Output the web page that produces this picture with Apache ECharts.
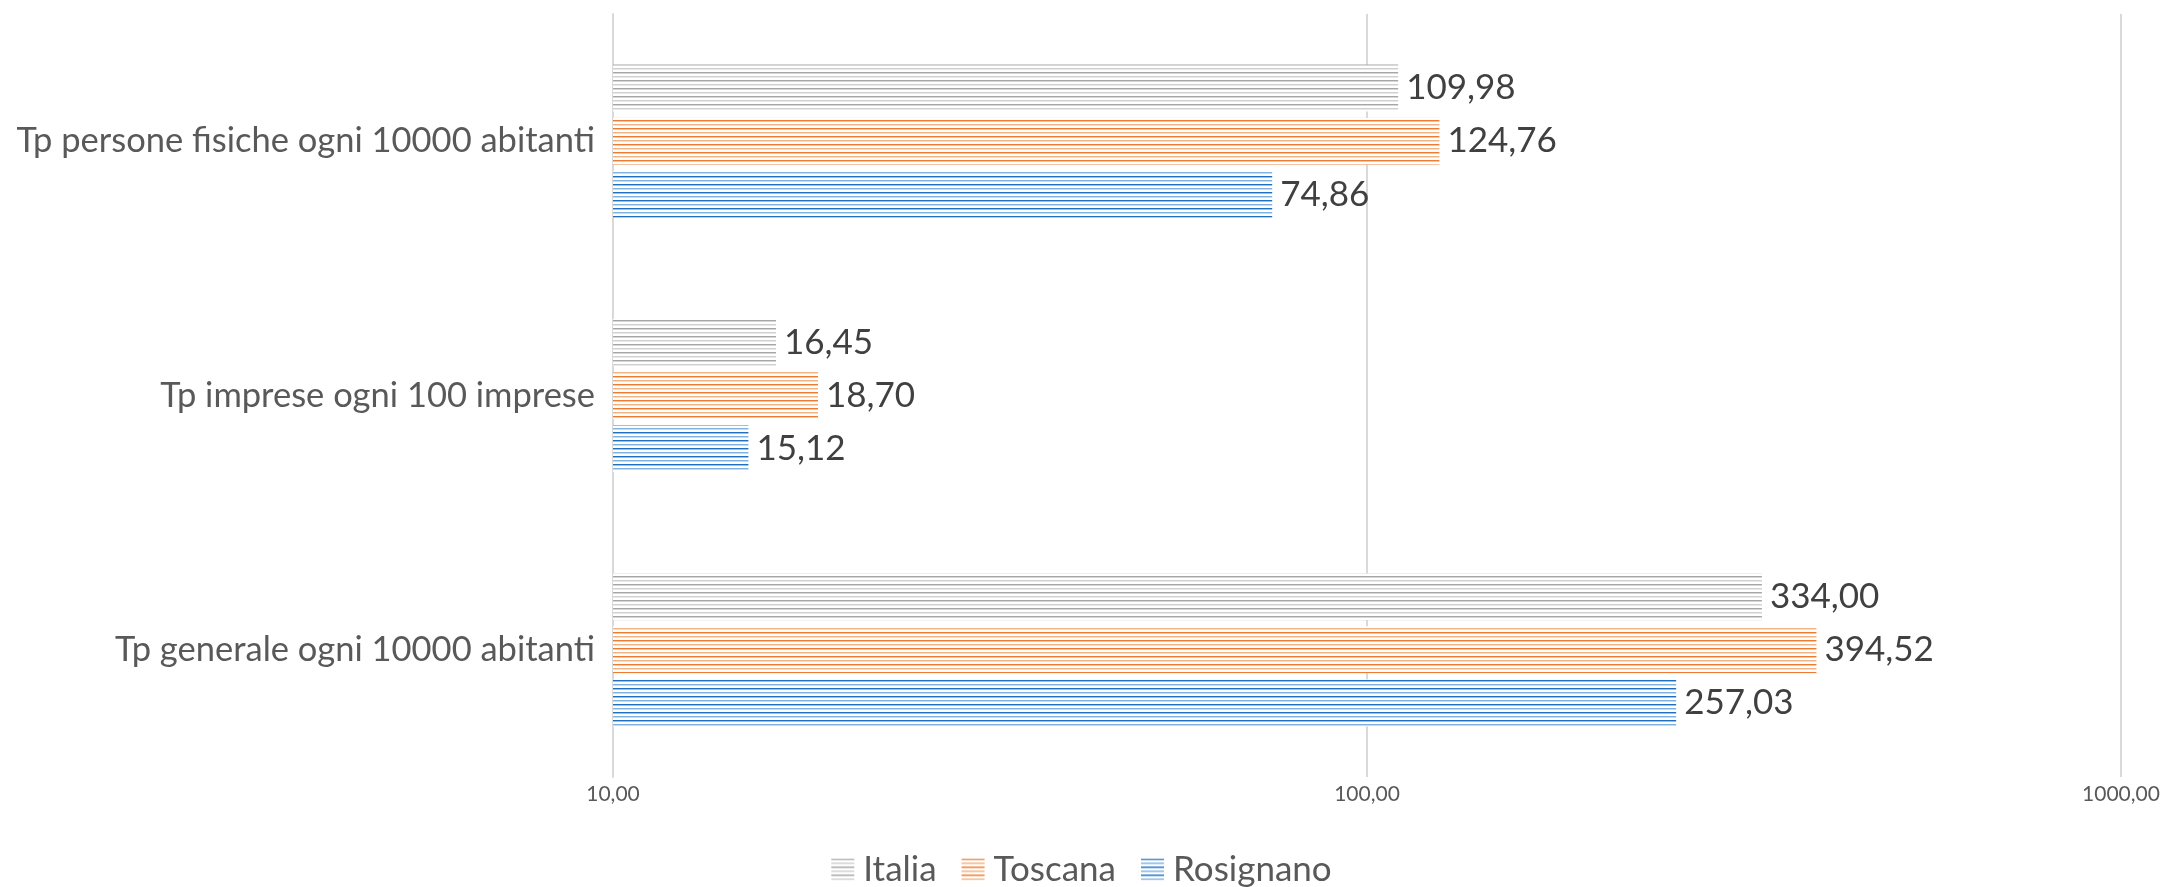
<!DOCTYPE html>
<html>
<head>
<meta charset="utf-8">
<title>Tassi di protesti</title>
<script src="https://cdn.jsdelivr.net/npm/echarts@6/dist/echarts.min.js"></script>
<style>
  html, body { margin: 0; padding: 0; background: #ffffff; }
  #chart { width: 2163px; height: 887px; }
</style>
</head>
<body>
<div id="chart"></div>
<script>
// Categories, bottom to top along the vertical axis
const categories = [
  'Tp generale ogni 10000 abitanti',
  'Tp imprese ogni 100 imprese',
  'Tp persone fisiche ogni 10000 abitanti'
];
const seriesNames = ['Italia', 'Toscana', 'Rosignano'];
const italia = [334.00, 16.45, 109.98];
const toscana = [394.52, 18.70, 124.76];
const rosignano = [257.03, 15.12, 74.86];
const axisMin = 10;
const axisMax = 1000;

const FONT = 'Lato, "Open Sans", "Noto Sans", sans-serif';

// Horizontal-stripe fill: alternating dark/light hairlines on white
function stripes(dark, light) {
  const c = document.createElement('canvas');
  c.width = 4; c.height = 8;
  const g = c.getContext('2d');
  g.fillStyle = '#ffffff';
  g.fillRect(0, 0, 4, 8);
  g.fillStyle = dark;
  g.fillRect(0, 0, 4, 1);
  g.globalAlpha = 0.45;
  g.fillRect(0, 1, 4, 1);
  g.globalAlpha = 1;
  g.fillStyle = light;
  g.fillRect(0, 4, 4, 1);
  g.globalAlpha = 0.45;
  g.fillRect(0, 5, 4, 1);
  return { image: c, repeat: 'repeat' };
}

const fills = {
  Italia: stripes('#a6a6a6', '#cfcfcf'),
  Toscana: stripes('#ed7d31', '#f4b183'),
  Rosignano: stripes('#1f70c1', '#7fb2de')
};

const fmt = v => Number(v).toFixed(2).replace('.', ',');

function makeSeries(name, values) {
  return {
    name: name,
    type: 'bar',
    data: values,
    barWidth: 47,
    barGap: '13%',
    itemStyle: { color: fills[name] },
    label: {
      show: true,
      position: 'right',
      distance: 8,
      formatter: p => fmt(p.value),
      fontFamily: FONT,
      fontSize: 35,
      color: '#404040'
    }
  };
}

const chart = echarts.init(document.getElementById('chart'), null, { renderer: 'canvas' });
chart.setOption({
  animation: false,
  backgroundColor: '#ffffff',
  grid: { left: 613, right: 42, top: 14, bottom: 110, containLabel: false },
  legend: {
    data: seriesNames,
    top: 852,
    left: 'center',
    padding: 0,
    itemWidth: 23,
    itemHeight: 22,
    itemGap: 25,
    icon: 'rect',
    textStyle: { fontFamily: FONT, fontSize: 35, color: '#595959', padding: [0, 0, 0, 4] }
  },
  xAxis: {
    type: 'log',
    logBase: 10,
    min: axisMin,
    max: axisMax,
    axisLine: { show: false },
    axisTick: { show: false },
    splitLine: { show: true, lineStyle: { color: '#d9d9d9', width: 2 } },
    axisLabel: {
      formatter: v => fmt(v),
      fontFamily: FONT,
      fontSize: 21,
      color: '#595959',
      margin: 7
    }
  },
  yAxis: {
    type: 'category',
    data: categories,
    axisLine: { show: true, lineStyle: { color: '#d9d9d9', width: 2 } },
    axisTick: { show: false },
    axisLabel: {
      fontFamily: FONT,
      fontSize: 34.5,
      color: '#595959',
      margin: 18
    }
  },
  series: [
    makeSeries('Italia', italia),
    makeSeries('Toscana', toscana),
    makeSeries('Rosignano', rosignano)
  ]
});
</script>
</body>
</html>
